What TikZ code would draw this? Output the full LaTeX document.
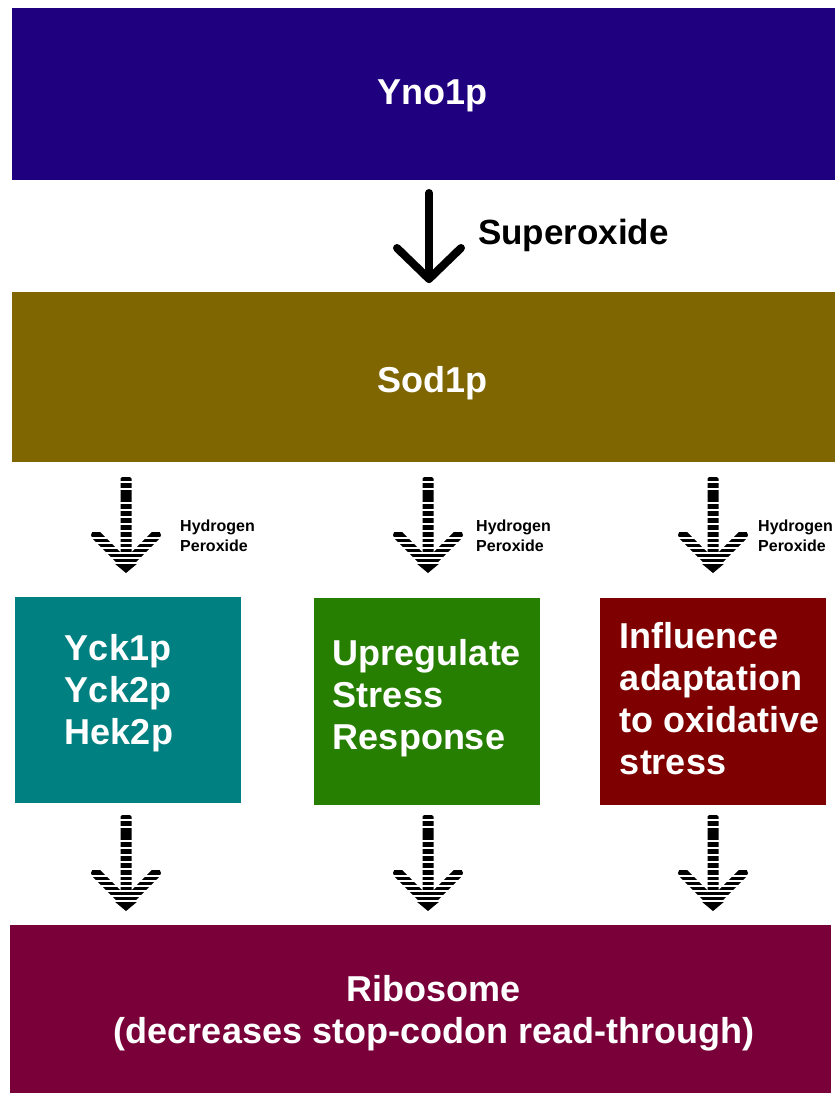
\documentclass[tikz,border=0pt]{standalone}
\usepackage{fontspec}
\setmainfont{Liberation Sans}
\definecolor{ynoc}{RGB}{31,0,127}
\definecolor{sodc}{RGB}{127,102,0}
\definecolor{yckc}{RGB}{0,128,128}
\definecolor{upc}{RGB}{38,127,0}
\definecolor{infc}{RGB}{127,0,0}
\definecolor{ribc}{RGB}{122,0,57}
\tikzset{
  bigbox/.style={draw=none, inner sep=0pt, text=white, font=\bfseries\fontsize{36}{42}\selectfont},
  smallbox/.style={draw=none, inner sep=0pt},
  boxtext/.style={text=white, align=left, inner sep=0pt, font=\bfseries\fontsize{36}{42}\selectfont},
  hlabel/.style={align=left, inner sep=0pt, anchor=west, font=\bfseries\fontsize{16}{20}\selectfont},
  stripedarrow/.pic={
    \fill[black, rounded corners=1.5pt] (-5.5,0) rectangle (5.5,80);
    \draw[black, line width=10pt, line cap=round, line join=miter] (-30,58) -- (0,88) -- (30,58);
    \fill[black] (-12,86) -- (12,86) -- (0,96) -- cycle;
    \foreach \yy in {5,12,26,33,40,47,54,61,66,71,76,81,86} {
      \draw[white, line width=1.8pt] (-40,\yy) -- (40,\yy);
    }
  }
}
\begin{document}
\begin{tikzpicture}[x=1pt,y=-1pt]
\useasboundingbox (0,0) rectangle (837,1093);
% main boxes
\node[bigbox, fill=ynoc, minimum width=823pt, minimum height=172pt] (yno) at (423.5,94) {};
\node[bigbox] (ynot) at (432,96) {Yno1p};
\node[bigbox, fill=sodc, minimum width=823pt, minimum height=170pt] (sod) at (423.5,377) {};
\node[bigbox] (sodt) at (432,383) {Sod1p};
\node[bigbox, fill=ribc, minimum width=821pt, minimum height=168pt] (rib) at (420.5,1009) {};
\node[bigbox, align=center] (ribt) at (434,1013) {Ribosome\\(decreases stop-codon read-through)};
% middle boxes
\node[smallbox, fill=yckc, minimum width=226pt, minimum height=206pt] (yck) at (128,700) {};
\node[boxtext] (yckt) at (119,693) {Yck1p\\Yck2p\\Hek2p};
\node[smallbox, fill=upc, minimum width=226pt, minimum height=207pt] (up) at (427,701.5) {};
\node[boxtext] (upt) at (427,698) {Upregulate\\Stress\\Response};
\node[smallbox, fill=infc, minimum width=226pt, minimum height=207pt] (inf) at (713,701.5) {};
\node[boxtext] (inft) at (720,699) {Influence\\adaptation\\to oxidative\\stress};
% superoxide arrow
\coordinate (sa) at (429,193);
\coordinate (sb) at (429,279);
\draw[line width=8pt, line cap=round, line join=round] (sa) -- (sb);
\draw[line width=8pt, line cap=round, line join=round] (397,248) -- (sb) -- (461,248);
\node[anchor=west, inner sep=0pt, font=\bfseries\fontsize{35}{40}\selectfont] (sup) at (478,235) {Superoxide};
% striped arrows
\pic at (126,477) {stripedarrow};
\pic at (428,477) {stripedarrow};
\pic at (713,477) {stripedarrow};
\pic at (126,815) {stripedarrow};
\pic at (428,815) {stripedarrow};
\pic at (713,815) {stripedarrow};
\node[hlabel] (h1) at (180,536) {Hydrogen\\Peroxide};
\node[hlabel] (h2) at (476,536) {Hydrogen\\Peroxide};
\node[hlabel] (h3) at (758,536) {Hydrogen\\Peroxide};
\end{tikzpicture}
\end{document}
